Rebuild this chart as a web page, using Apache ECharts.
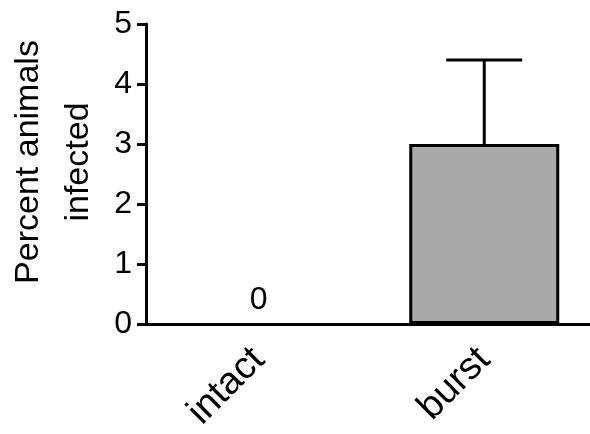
<!DOCTYPE html>
<html>
<head>
<meta charset="utf-8">
<script src="https://cdn.jsdelivr.net/npm/echarts@6/dist/echarts.min.js"></script>
<style>
  html, body { margin: 0; padding: 0; background: #fff; }
  #chart { width: 590px; height: 434px; }
</style>
</head>
<body>
<div id="chart"></div>
<script>
// data
var categories = ['intact', 'burst'];
var percentInfected = [0, 3];
var errorUpper = [null, 4.4];
var yTicks = [0, 1, 2, 3, 4, 5];

var font = 'Liberation Sans';

// error bar: [category index, mean, upper]
var errData = [];
errorUpper.forEach(function (u, i) {
  if (u != null) errData.push([i, percentInfected[i], u]);
});

var chart = echarts.init(document.getElementById('chart'));
var option = {
  animation: false,
  backgroundColor: '#fff',
  grid: { left: 146, top: 24, bottom: 110, width: 451, outerBoundsMode: 'none' },
  xAxis: {
    type: 'category',
    data: categories,
    axisLine: { lineStyle: { color: '#000', width: 3 } },
    axisTick: { alignWithLabel: true, length: 9, lineStyle: { color: '#000', width: 3 } },
    axisLabel: { rotate: 45, fontSize: 38, color: '#000', fontFamily: font, margin: 30 }
  },
  yAxis: {
    type: 'value',
    min: yTicks[0],
    max: yTicks[yTicks.length - 1],
    interval: 1,
    name: 'Percent animals\ninfected',
    nameLocation: 'middle',
    nameGap: 41,
    nameTextStyle: { fontSize: 34, color: '#000', fontFamily: font, lineHeight: 50, padding: [0, 0, 0, 24] },
    axisLine: { show: true, lineStyle: { color: '#000', width: 3 } },
    axisTick: { show: true, length: 9, lineStyle: { color: '#000', width: 3 } },
    axisLabel: { fontSize: 32, color: '#000', fontFamily: font, margin: 14 },
    splitLine: { show: false }
  },
  series: [
    {
      type: 'bar',
      barWidth: 150,
      data: percentInfected.map(function (v) {
        return {
          value: v,
          itemStyle: v === 0 ? { borderWidth: 0, color: 'transparent' } : undefined,
          label: {
            show: v === 0,
            position: 'top',
            distance: 8,
            fontSize: 32,
            color: '#000',
            fontFamily: font,
            formatter: '{c}'
          }
        };
      }),
      itemStyle: { color: '#a9a9a9', borderColor: '#000', borderWidth: 3 }
    },
    {
      type: 'custom',
      data: errData,
      z: 1,
      renderItem: function (params, api) {
        var base = api.coord([api.value(0), api.value(1)]);
        var top = api.coord([api.value(0), api.value(2)]);
        var half = 38;
        var st = { stroke: '#000', lineWidth: 3 };
        return {
          type: 'group',
          children: [
            { type: 'line', shape: { x1: base[0], y1: base[1], x2: top[0], y2: top[1] }, style: st },
            { type: 'line', shape: { x1: top[0] - half, y1: top[1], x2: top[0] + half, y2: top[1] }, style: st }
          ]
        };
      }
    }
  ]
};
chart.setOption(option);
</script>
</body>
</html>
